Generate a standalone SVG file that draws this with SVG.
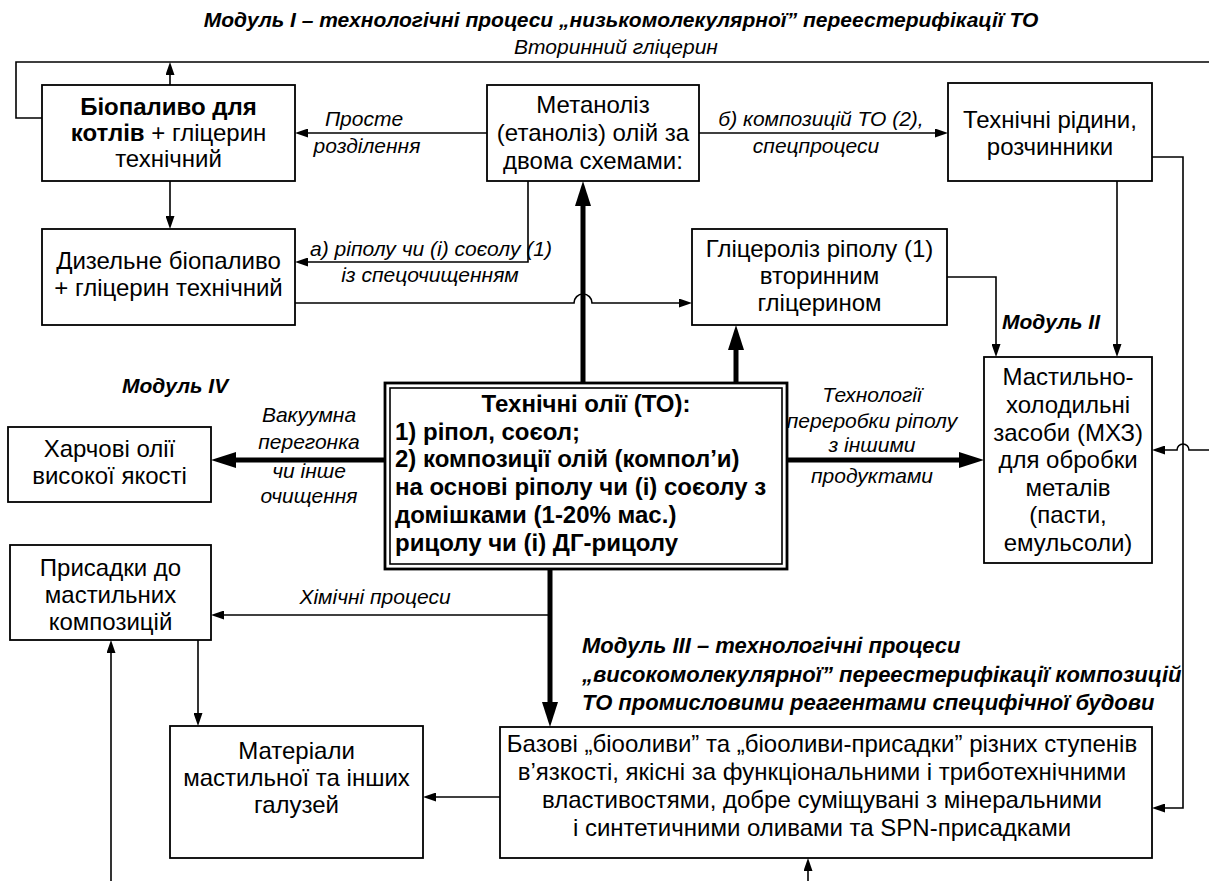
<svg xmlns="http://www.w3.org/2000/svg" width="1209" height="881" viewBox="0 0 1209 881">
<style>
text{font-family:"Liberation Sans",Arial,sans-serif;fill:#000}
.b{font-size:24px;text-anchor:middle}
.c{font-size:24px;font-weight:bold}
.l{font-size:21px;font-style:italic;text-anchor:middle}
.m{font-size:21px;font-style:italic;font-weight:bold}
.m3{font-size:22px}
.box{fill:#fff;stroke:#000;stroke-width:1.8}
.t{fill:none;stroke:#000;stroke-width:1.6}
.k{fill:none;stroke:#000;stroke-width:5}
.ta{marker-end:url(#ah)}
.ka{marker-end:url(#kh)}
</style>
<defs>
<marker id="ah" markerUnits="userSpaceOnUse" markerWidth="13" markerHeight="9" viewBox="0 0 13 9" refX="7" refY="4.5" orient="auto"><path d="M0,0 L13,4.5 L0,9 z" fill="#000"/></marker>
<marker id="kh" markerUnits="userSpaceOnUse" markerWidth="25" markerHeight="16" viewBox="0 0 25 16" refX="13" refY="8" orient="auto"><path d="M0,0 L25,8 L0,16 z" fill="#000"/></marker>
</defs>
<rect width="1209" height="881" fill="#fff"/>
<text class="m" x="621" y="27" text-anchor="middle">Модуль І – технологічні процеси „низькомолекулярної” переестерифікації ТО</text>
<text class="l" x="616" y="54">Вторинний гліцерин</text>
<g id="connectors">
<polyline class="t" points="42,118 16,118 16,62 1209,62"/>
<line class="t ta" x1="170" y1="85" x2="170" y2="68"/>
<line class="t ta" x1="487" y1="133" x2="301" y2="133"/>
<line class="t ta" x1="699" y1="133" x2="942" y2="133"/>
<line class="t ta" x1="170" y1="181" x2="170" y2="223"/>
<polyline class="t ta" points="528,181 528,262 301,262"/>
<path class="t ta" d="M295,303 H574 A9,9 0 0 1 592,303 H686"/>
<line class="k ka" x1="583" y1="383" x2="583" y2="193"/>
<line class="k ka" x1="736" y1="383" x2="736" y2="337"/>
<polyline class="t ta" points="947,277 996,277 996,351"/>
<line class="t ta" x1="1117" y1="181" x2="1117" y2="351"/>
<polyline class="t ta" points="1152,157 1183,157 1183,808 1158,808"/>
<path class="t ta" d="M1209,450 H1189 A6,6 0 0 0 1177,450 H1158"/>
<line class="k ka" x1="385" y1="460" x2="223" y2="460"/>
<line class="k ka" x1="787" y1="460" x2="972" y2="460"/>
<line class="k ka" x1="550" y1="569" x2="550" y2="715"/>
<line class="t ta" x1="550" y1="615" x2="217" y2="615"/>
<line class="t ta" x1="198" y1="640" x2="198" y2="720"/>
<line class="t ta" x1="111" y1="881" x2="111" y2="646"/>
<line class="t ta" x1="500" y1="797" x2="429" y2="797"/>
<line class="t ta" x1="808" y1="881" x2="808" y2="864"/>
</g>
<g id="labels">
<text class="l" x="364" y="126">Просте</text>
<text class="l" x="367" y="153">розділення</text>
<text class="l" x="821" y="126">б) композицій ТО (2),</text>
<text class="l" x="816" y="153">спецпроцеси</text>
<text class="l" x="431" y="256">а) ріполу чи (і) соєолу (1)</text>
<text class="l" x="430" y="282">із спецочищенням</text>
<text class="l" x="309" y="422">Вакуумна</text>
<text class="l" x="309" y="449">перегонка</text>
<text class="l" x="309" y="478">чи інше</text>
<text class="l" x="309" y="503">очищення</text>
<text class="l" x="872" y="402">Технології</text>
<text class="l" x="872" y="428">переробки ріполу</text>
<text class="l" x="872" y="452">з іншими</text>
<text class="l" x="872" y="483">продуктами</text>
<text class="l" x="375" y="604">Хімічні процеси</text>
<text class="m" x="1002" y="329">Модуль ІІ</text>
<text class="m" x="122" y="393">Модуль IV</text>
<text class="m m3" x="582" y="653">Модуль ІІІ – технологічні процеси</text>
<text class="m m3" x="582" y="682">„високомолекулярної” переестерифікації композицій</text>
<text class="m m3" x="582" y="710">ТО промисловими реагентами специфічної будови</text>
</g>
<g id="n-biofuel">
<rect class="box" x="42" y="85" width="253" height="96"/>
<text class="b" x="168.5" y="115" font-weight="bold">Біопаливо для</text>
<text class="b" x="168.5" y="141"><tspan font-weight="bold">котлів</tspan> + гліцерин</text>
<text class="b" x="168.5" y="167">технічний</text>
</g>
<g id="n-methanolysis">
<rect class="box" x="487" y="85" width="212" height="96"/>
<text class="b" x="593" y="113">Метаноліз</text>
<text class="b" x="593" y="141">(етаноліз) олій за</text>
<text class="b" x="593" y="169">двома схемами:</text>
</g>
<g id="n-fluids">
<rect class="box" x="948" y="83" width="204" height="98"/>
<text class="b" x="1050" y="128">Технічні рідини,</text>
<text class="b" x="1050" y="155">розчинники</text>
</g>
<g id="n-diesel">
<rect class="box" x="42" y="229" width="253" height="96"/>
<text class="b" x="168.5" y="269">Дизельне біопаливо</text>
<text class="b" x="168.5" y="296">+ гліцерин технічний</text>
</g>
<g id="n-glycerolysis">
<rect class="box" x="692" y="229" width="255" height="96"/>
<text class="b" x="819.5" y="257">Гліцероліз ріполу (1)</text>
<text class="b" x="819.5" y="284">вторинним</text>
<text class="b" x="819.5" y="311">гліцерином</text>
</g>
<g id="n-mhz">
<rect class="box" x="984" y="357" width="168" height="206"/>
<text class="b" x="1068" y="385">Мастильно-</text>
<text class="b" x="1068" y="413">холодильні</text>
<text class="b" x="1068" y="441">засоби (МХЗ)</text>
<text class="b" x="1068" y="468">для обробки</text>
<text class="b" x="1068" y="496">металів</text>
<text class="b" x="1068" y="523">(пасти,</text>
<text class="b" x="1068" y="551">емульсоли)</text>
</g>
<g id="n-oils">
<rect x="385" y="383" width="402" height="186" fill="#fff" stroke="#000" stroke-width="2.8"/>
<rect x="390" y="388" width="392" height="176" fill="none" stroke="#000" stroke-width="1.6"/>
<text class="c" x="586" y="412" text-anchor="middle">Технічні олії (ТО):</text>
<text class="c" x="395" y="440">1) ріпол, соєол;</text>
<text class="c" x="395" y="467">2) композиції олій (компол’и)</text>
<text class="c" x="395" y="495">на основі ріполу чи (і) соєолу з</text>
<text class="c" x="395" y="523">домішками (1-20% мас.)</text>
<text class="c" x="395" y="551">рицолу чи (і) ДГ-рицолу</text>
</g>
<g id="n-food">
<rect class="box" x="8" y="427" width="203" height="75"/>
<text class="b" x="109.5" y="457">Харчові олії</text>
<text class="b" x="109.5" y="484">високої якості</text>
</g>
<g id="n-additives">
<rect class="box" x="10" y="545" width="201" height="95"/>
<text class="b" x="110.5" y="576">Присадки до</text>
<text class="b" x="110.5" y="603">мастильних</text>
<text class="b" x="110.5" y="630">композицій</text>
</g>
<g id="n-materials">
<rect class="box" x="170" y="726" width="253" height="132"/>
<text class="b" x="296.5" y="759">Матеріали</text>
<text class="b" x="296.5" y="786">мастильної та інших</text>
<text class="b" x="296.5" y="813">галузей</text>
</g>
<g id="n-base">
<rect class="box" x="500" y="727" width="652" height="131"/>
<text class="b" x="822" y="752" font-size="23">Базові „біооливи” та „біооливи-присадки” різних ступенів</text>
<text class="b" x="822" y="780" font-size="23">в’язкості, якісні за функціональними і триботехнічними</text>
<text class="b" x="822" y="808" font-size="23">властивостями, добре суміщувані з мінеральними</text>
<text class="b" x="822" y="836" font-size="23">і синтетичними оливами та SPN-присадками</text>
</g>
</svg>
